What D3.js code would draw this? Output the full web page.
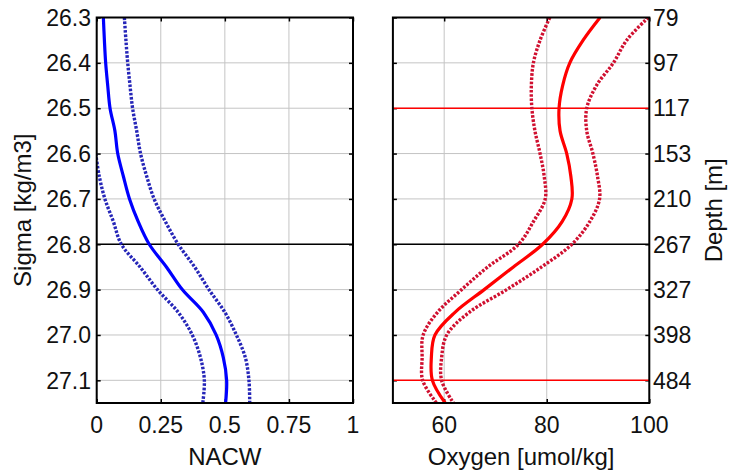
<!DOCTYPE html>
<html>
<head>
<meta charset="utf-8">
<script src="https://cdn.jsdelivr.net/npm/d3@7"></script>
<style>
  body { margin: 0; background: #fff; }
  svg text { font-family: "Liberation Sans", Arial, sans-serif; fill: #111; }
</style>
</head>
<body>
<div id="chart"></div>
<script>
// sigma levels (kg/m3) at which the profiles are given
var sigma = [26.3, 26.35, 26.4, 26.45, 26.5, 26.55, 26.6, 26.65, 26.7,
             26.75, 26.8, 26.85, 26.9, 26.95, 27.0, 27.05, 27.1, 27.15];

// NACW fraction: mean and bounds (lower bound off the axis above 26.6)
var nacwMean  = [0.026, 0.030, 0.035, 0.043, 0.052, 0.071, 0.082, 0.104, 0.128,
                 0.162, 0.205, 0.272, 0.334, 0.416, 0.466, 0.494, 0.507, 0.503];
var nacwUpper = [0.108, 0.114, 0.121, 0.130, 0.140, 0.156, 0.171, 0.195, 0.224,
                 0.268, 0.318, 0.382, 0.438, 0.500, 0.545, 0.580, 0.594, 0.597];
var nacwLower = [null, null, null, null, null, null, -0.004, 0.010, 0.032,
                 0.065, 0.096, 0.169, 0.237, 0.318, 0.373, 0.405, 0.420, 0.414];

// Oxygen (umol/kg): mean and bounds
var oxyMean  = [90.4, 87.1, 84.5, 83.1, 82.4, 82.6, 83.9, 84.7, 84.9,
                83.0, 79.2, 73.5, 67.8, 62.1, 58.2, 57.5, 57.7, 60.2];
var oxyUpper = [99.8, 95.6, 93.0, 89.7, 87.8, 87.8, 89.0, 89.9, 90.3,
                88.4, 84.9, 79.0, 72.2, 64.9, 60.5, 59.5, 59.5, 61.8];
var oxyLower = [80.6, 78.7, 77.4, 77.0, 77.1, 77.7, 78.7, 79.5, 79.7,
                77.4, 74.5, 68.5, 63.4, 58.7, 55.9, 55.7, 55.8, 58.5];

// ticks and labels
var sigmaTicks = [26.3, 26.4, 26.5, 26.6, 26.7, 26.8, 26.9, 27.0, 27.1];
var depthLabels = ['79', '97', '117', '153', '210', '267', '327', '398', '484'];
var nacwTicks = [0, 0.25, 0.5, 0.75, 1];
var nacwTickLabels = ['0', '0.25', '0.5', '0.75', '1'];
var oxyTicks = [60, 80, 100];

// reference levels
var blackLevels = [26.8];
var redLevels = [26.5, 27.1];

var W = 733, H = 470;
var yTop = 17.5, yBot = 403;

var svg = d3.select('#chart').append('svg')
    .attr('width', W)
    .attr('height', H);

var y = d3.scaleLinear().domain([26.3, 27.15]).range([yTop, yBot]);

function panel(id, x0, x1, domain, ticks, tickFmt) {
  var x = d3.scaleLinear().domain(domain).range([x0, x1]);
  var g = svg.append('g');

  g.append('clipPath').attr('id', id)
    .append('rect')
    .attr('x', x0).attr('y', yTop)
    .attr('width', x1 - x0).attr('height', yBot - yTop);

  // grid
  g.append('g').selectAll('line').data(ticks).join('line')
    .attr('x1', function(d) { return x(d); })
    .attr('x2', function(d) { return x(d); })
    .attr('y1', yTop).attr('y2', yBot)
    .attr('stroke', '#c4c4c4').attr('stroke-width', 1);
  g.append('g').selectAll('line').data(sigmaTicks).join('line')
    .attr('x1', x0).attr('x2', x1)
    .attr('y1', function(d) { return y(d); })
    .attr('y2', function(d) { return y(d); })
    .attr('stroke', '#c4c4c4').attr('stroke-width', 1);

  // inward ticks on all four sides
  g.append('g').attr('transform', 'translate(0,' + yBot + ')')
    .call(d3.axisTop(x).tickValues(ticks).tickSize(4).tickFormat(''));
  g.append('g').attr('transform', 'translate(0,' + yTop + ')')
    .call(d3.axisBottom(x).tickValues(ticks).tickSize(4).tickFormat(''));
  g.append('g').attr('transform', 'translate(' + x0 + ',0)')
    .call(d3.axisRight(y).tickValues(sigmaTicks).tickSize(4).tickFormat(''));
  g.append('g').attr('transform', 'translate(' + x1 + ',0)')
    .call(d3.axisLeft(y).tickValues(sigmaTicks).tickSize(4).tickFormat(''));
  g.selectAll('.domain').remove();
  g.selectAll('.tick line').attr('stroke', '#000').attr('stroke-width', 1.5);

  // x tick labels
  g.append('g').selectAll('text').data(ticks).join('text')
    .attr('x', function(d) { return x(d); })
    .attr('y', 433)
    .attr('text-anchor', 'middle')
    .attr('font-size', 23)
    .text(function(d, i) { return tickFmt(d, i); });

  return { g: g, x: x, x0: x0, x1: x1, clip: 'url(#' + id + ')' };
}

function levels(p, vals, color) {
  p.g.append('g').selectAll('line').data(vals).join('line')
    .attr('x1', p.x0).attr('x2', p.x1)
    .attr('y1', function(d) { return y(d); })
    .attr('y2', function(d) { return y(d); })
    .attr('stroke', color).attr('stroke-width', 1.5);
}

function profile(p, vals, color, dotted) {
  var line = d3.line()
    .defined(function(d) { return d[0] != null; })
    .x(function(d) { return p.x(d[0]); })
    .y(function(d) { return y(d[1]); })
    .curve(d3.curveCatmullRom.alpha(0.5));
  p.g.append('path')
    .datum(d3.zip(vals, sigma))
    .attr('clip-path', p.clip)
    .attr('d', line)
    .attr('fill', 'none')
    .attr('stroke', color)
    .attr('stroke-width', dotted ? 3.4 : 3.2)
    .attr('stroke-dasharray', dotted ? '2.6,1.6' : null);
}

function box(p) {
  p.g.append('rect')
    .attr('x', p.x0).attr('y', yTop)
    .attr('width', p.x1 - p.x0).attr('height', yBot - yTop)
    .attr('fill', 'none').attr('stroke', '#000').attr('stroke-width', 2);
}

// left panel: NACW
var left = panel('clipL', 96.7, 353, [0, 1], nacwTicks,
                 function(d, i) { return nacwTickLabels[i]; });
levels(left, blackLevels, '#000');
profile(left, nacwUpper, '#2626b8', true);
profile(left, nacwLower, '#2626b8', true);
profile(left, nacwMean, '#0000ff', false);
box(left);

left.g.append('g').selectAll('text').data(sigmaTicks).join('text')
  .attr('x', 91)
  .attr('y', function(d) { return y(d); })
  .attr('dy', '0.36em')
  .attr('text-anchor', 'end')
  .attr('font-size', 23)
  .text(function(d) { return d3.format('.1f')(d); });

svg.append('text')
  .attr('x', left.x(0.5)).attr('y', 465)
  .attr('text-anchor', 'middle').attr('font-size', 24)
  .text('NACW');

svg.append('text')
  .attr('transform', 'translate(31,' + (yTop + yBot) / 2 + ') rotate(-90)')
  .attr('text-anchor', 'middle').attr('font-size', 24)
  .text('Sigma [kg/m3]');

// right panel: Oxygen
var right = panel('clipR', 392.9, 649.3, [50, 100], oxyTicks,
                  function(d) { return d; });
levels(right, blackLevels, '#000');
levels(right, redLevels, '#ff0000');
profile(right, oxyUpper, '#d01030', true);
profile(right, oxyLower, '#d01030', true);
profile(right, oxyMean, '#ff0000', false);
box(right);

right.g.append('g').selectAll('text').data(sigmaTicks).join('text')
  .attr('x', 653)
  .attr('y', function(d) { return y(d); })
  .attr('dy', '0.36em')
  .attr('text-anchor', 'start')
  .attr('font-size', 23)
  .text(function(d, i) { return depthLabels[i]; });

svg.append('text')
  .attr('x', (392.9 + 649.3) / 2).attr('y', 465)
  .attr('text-anchor', 'middle').attr('font-size', 24)
  .text('Oxygen [umol/kg]');

svg.append('text')
  .attr('transform', 'translate(722,' + (yTop + yBot) / 2 + ') rotate(-90)')
  .attr('text-anchor', 'middle').attr('font-size', 24)
  .text('Depth [m]');
</script>
</body>
</html>
